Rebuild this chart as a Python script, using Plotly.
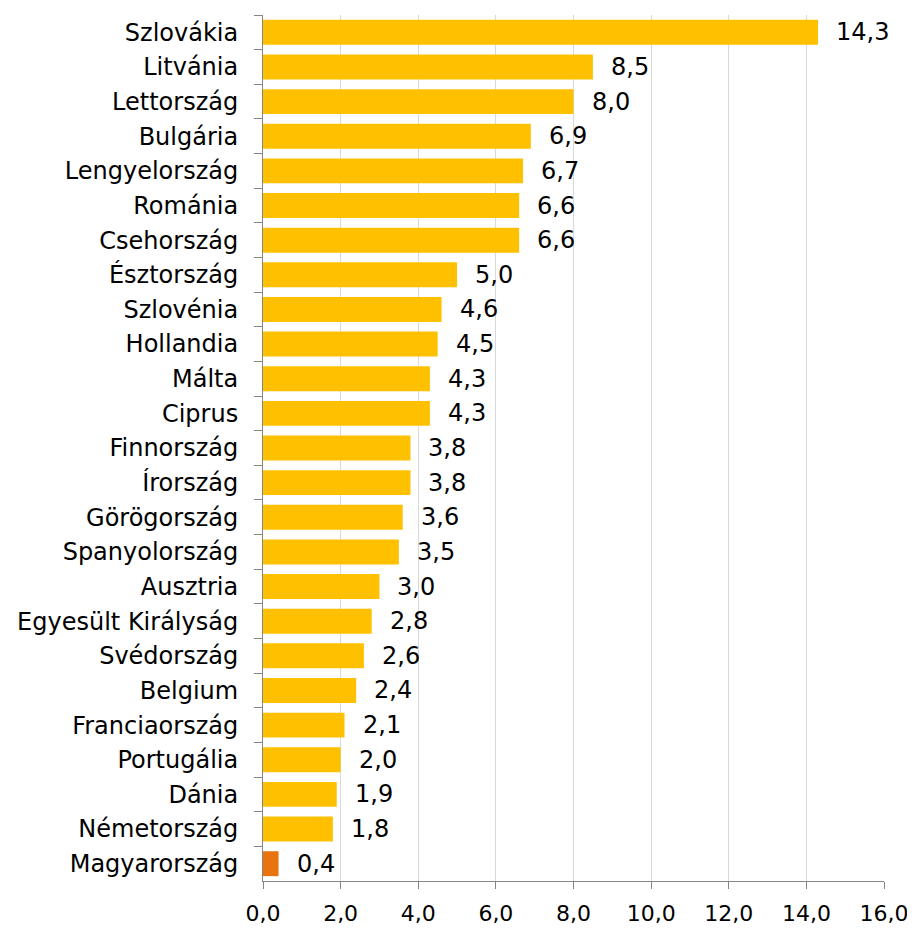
import plotly.graph_objects as go

countries = ["Szlovákia", "Litvánia", "Lettország", "Bulgária", "Lengyelország",
             "Románia", "Csehország", "Észtország", "Szlovénia", "Hollandia",
             "Málta", "Ciprus", "Finnország", "Írország", "Görögország",
             "Spanyolország", "Ausztria", "Egyesült Királyság", "Svédország",
             "Belgium", "Franciaország", "Portugália", "Dánia", "Németország",
             "Magyarország"]
values = [14.3, 8.5, 8.0, 6.9, 6.7, 6.6, 6.6, 5.0, 4.6, 4.5, 4.3, 4.3, 3.8, 3.8,
          3.6, 3.5, 3.0, 2.8, 2.6, 2.4, 2.1, 2.0, 1.9, 1.8, 0.4]
highlight = "Magyarország"
x_ticks = [0, 2, 4, 6, 8, 10, 12, 14, 16]

FONT = "DejaVu Sans"
FS = 24

colors = ["#E8730F" if c == highlight else "#FFC000" for c in countries]

fig = go.Figure()
fig.add_trace(go.Bar(
    y=countries, x=values, orientation="h",
    marker=dict(color=colors, line=dict(width=0)),
    hoverinfo="skip",
))

for c, v in zip(countries, values):
    fig.add_annotation(
        x=v, y=c, xref="x", yref="y",
        text=f"{v:.1f}".replace(".", ","),
        showarrow=False, xanchor="left", yanchor="middle",
        xshift=16, font=dict(size=FS, color="#000000", family=FONT),
    )

# the page body has an 8px default margin, so the figure is offset by 8px
fig.update_layout(
    width=915, height=929,
    margin=dict(l=255, r=39, t=7, b=56),
    paper_bgcolor="white", plot_bgcolor="white",
    bargap=0.28,
    showlegend=False,
    separators=", ",
    font=dict(family=FONT, size=FS, color="#000000"),
)
fig.update_xaxes(
    range=[0, 16], tickvals=x_ticks, tickformat=".1f",
    showgrid=True, gridcolor="#D9D9D9", gridwidth=1,
    showline=True, linecolor="#868686", linewidth=1,
    ticks="outside", ticklen=7, tickcolor="#868686",
    zeroline=False, tickfont=dict(size=22), ticklabelstandoff=6,
    automargin=False,
)
fig.update_yaxes(
    categoryorder="array", categoryarray=countries, autorange="reversed",
    showline=True, linecolor="#868686", linewidth=1,
    ticks="outside", ticklen=8, tickcolor="#868686", tickson="boundaries",
    showgrid=False, tickfont=dict(size=FS), ticklabelstandoff=19,
    automargin=False,
)

fig.write_html("out.html")
